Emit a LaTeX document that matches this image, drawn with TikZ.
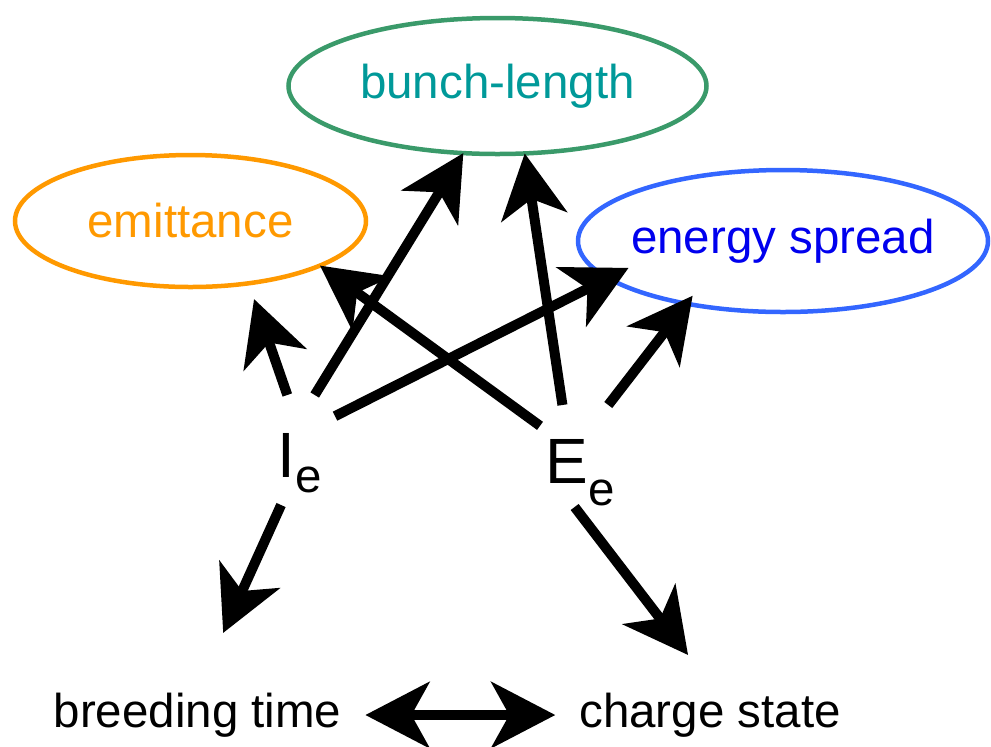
\documentclass[tikz,border=0pt]{standalone}
\usepackage{fontspec}
\setmainfont{Liberation Sans}
\usetikzlibrary{arrows.meta,shapes.geometric}
\definecolor{emitc}{HTML}{FF9900}
\definecolor{bunchc}{HTML}{3A9A6A}
\definecolor{bunchtxt}{HTML}{009999}
\definecolor{spreadc}{HTML}{3366FF}
\definecolor{spreadtxt}{HTML}{0000EE}
\newcommand{\lblfont}{\fontsize{23.75}{28}\selectfont}
\newcommand{\qtyfont}{\fontsize{32}{38}\selectfont}
\tikzset{
  blob/.style={ellipse,draw,line width=2.25pt,inner sep=0pt,outer sep=0pt,font=\lblfont},
  qty/.style={rectangle,inner sep=0pt,outer sep=0pt,font=\qtyfont,
    text height=27pt,text depth=0pt},
  effect/.style={rectangle,inner xsep=12pt,inner ysep=4pt,outer sep=0pt,font=\lblfont,
    text height=17pt,text depth=5pt},
  tip/.tip={Stealth[length=32pt,width=33pt,inset=9pt]},
  flow/.style={line width=5pt,-tip},
}
\begin{document}
\begin{tikzpicture}[x=0.5pt,y=-0.5pt]
  \useasboundingbox (0,0) rectangle (991,746);
  % the three beam properties
  \node[blob,draw=bunchc,text=bunchtxt,minimum width=209pt,minimum height=68pt](bunch) at (497.5,86){bunch-length};
  \node[blob,draw=emitc,text=emitc,minimum width=175.5pt,minimum height=66pt](emit) at (190.5,221){emittance};
  \node[blob,draw=spreadc,text=spreadtxt,minimum width=205pt,minimum height=71pt](spread) at (783,241){\makebox[0pt]{energy spread}};
  % electron beam parameters
  \node[qty,minimum width=35pt,minimum height=55pt](Ie) at (300,450){I\raisebox{-7.5pt}{\lblfont e}};
  \node[qty,minimum width=40pt,minimum height=51pt](Ee) at (580,456){E\raisebox{-11pt}{\lblfont e}};
  \node[effect](breed) at (197.5,715){breeding time};
  \node[effect](charge) at (710,715){charge state};
  \draw[flow,shorten >=8.35pt](Ie.103)--(emit.-47.2);
  \draw[flow](Ie.75)--(bunch.-117);
  \draw[flow,shorten >=-11.35pt](Ie.44)--(spread.-168.5);
  \draw[flow](Ee.143)--(emit.-19.6);
  \draw[flow](Ee.109)--(bunch.-68);
  \draw[flow,shorten >=-5pt](Ee.61)--(spread.-147.4);
  \draw[flow,shorten >=28.6pt](Ie.-109)--(breed.86);
  \draw[flow,shorten >=18.9pt](Ee.-96)--(charge.88);
  \draw[line width=5pt,tip-tip](breed)--(charge);
\end{tikzpicture}
\end{document}
